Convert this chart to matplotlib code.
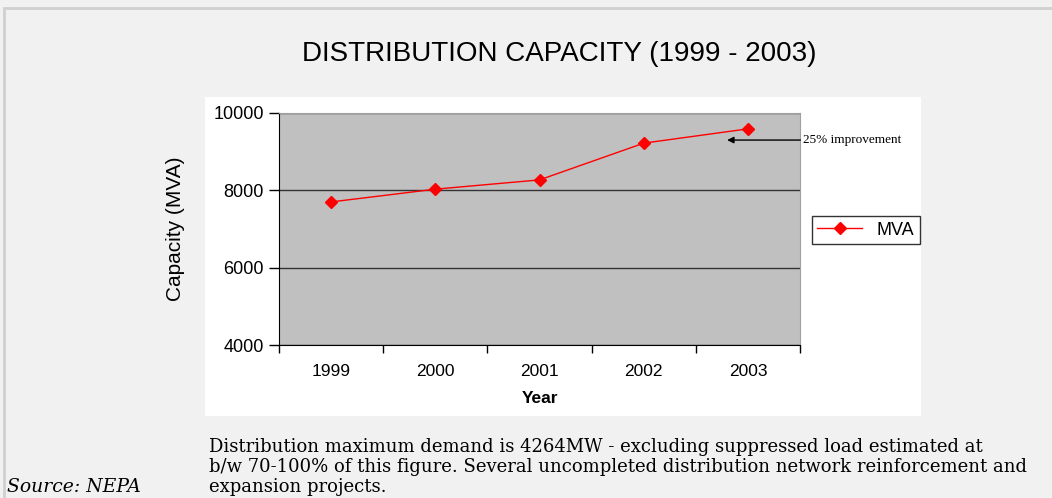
import matplotlib.pyplot as plt
from matplotlib.patches import Rectangle
from matplotlib.ticker import FixedLocator

years = ['1999', '2000', '2001', '2002', '2003']
mva = [7700, 8030, 8270, 9220, 9590]
yticks = [4000, 6000, 8000, 10000]

plt.rcParams['font.family'] = ['Liberation Sans', 'DejaVu Sans']

fig = plt.figure(figsize=(10.52, 4.98), dpi=100, facecolor='#f1f1f1')

# outer frame and white chart panel
fig.patches.append(Rectangle((0.004, -0.1), 1.2, 1.084, transform=fig.transFigure,
                             fill=False, edgecolor='#d0d0d0', linewidth=2, zorder=-2))
fig.patches.append(Rectangle((0.1949, 0.1647), 0.6806, 0.6406, transform=fig.transFigure,
                             facecolor='white', edgecolor='none', zorder=-1))

ax = fig.add_axes([0.2652, 0.3072, 0.4953, 0.4659])
ax.set_zorder(2)
ax.set_facecolor('#c0c0c0')
x = list(range(len(years)))
ax.plot(x, mva, color='red', linewidth=1, marker='D', markersize=6.5, label='MVA')

ax.set_xlim(-0.5, len(years) - 0.5)
ax.set_ylim(4000, 10000)
ax.set_yticks(yticks)
ax.set_xticks(x)
ax.set_xticklabels(years)
ax.xaxis.set_minor_locator(FixedLocator([i - 0.5 for i in range(len(years) + 1)]))
ax.tick_params(axis='x', which='major', length=0, pad=14, labelsize=12.5)
ax.tick_params(axis='x', which='minor', length=6, width=1, color='black')
ax.tick_params(axis='y', length=7, width=1, labelsize=13, pad=4)
ax.grid(axis='y', color='#333333', linewidth=1)
ax.set_axisbelow(True)
for s in ['top', 'right']:
    ax.spines[s].set_color('#a0a0a0')
for s in ['left', 'bottom']:
    ax.spines[s].set_color('black')

ax.set_xlabel('Year', fontsize=12.5, fontweight='bold', labelpad=8.5)
ax.set_ylabel('Capacity (MVA)', fontsize=15, labelpad=20)

ax.annotate('25% improvement', xy=(3.8, 9300), xytext=(4.53, 9300),
            fontsize=9.5, family='Liberation Serif', va='center', ha='left',
            annotation_clip=False,
            arrowprops=dict(arrowstyle='-|>', color='black', lw=1, shrinkA=0, shrinkB=0))

ax.legend(loc='center', bbox_to_anchor=(0.823, 0.538), bbox_transform=fig.transFigure,
          fontsize=13, frameon=True, fancybox=False, edgecolor='black',
          borderpad=0.3, handlelength=2.5, borderaxespad=0)

fig.text(0.532, 0.892, 'DISTRIBUTION CAPACITY (1999 - 2003)', ha='center', va='center',
         fontsize=20)

fig.text(0.199, 0.004, 'Distribution maximum demand is 4264MW - excluding suppressed load estimated at\n'
         'b/w 70-100% of this figure. Several uncompleted distribution network reinforcement and\n'
         'expansion projects.', family='DejaVu Serif', fontsize=13, ha='left', va='bottom',
         linespacing=1.15)
fig.text(0.007, 0.004, 'Source: NEPA', family='DejaVu Serif', style='italic',
         fontsize=13.5, ha='left', va='bottom')

fig.savefig('out.png', dpi=100, facecolor=fig.get_facecolor())
